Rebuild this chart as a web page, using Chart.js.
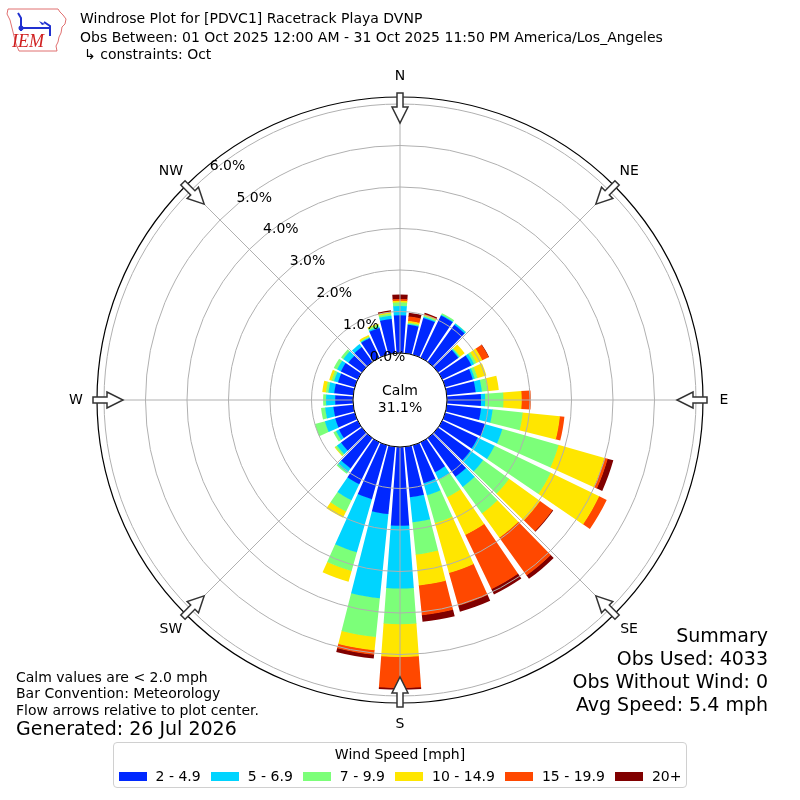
<!DOCTYPE html>
<html>
<head>
<meta charset="utf-8">
<script src="https://cdn.jsdelivr.net/npm/chart.js@4.4.1/dist/chart.umd.min.js"></script>
<style>
html,body{margin:0;padding:0;background:#fff;}
#wrap{position:relative;width:800px;height:800px;font-family:"DejaVu Sans",sans-serif;color:#000;overflow:hidden;background:#fff;}
#c{position:absolute;left:0;top:0;}
.t{position:absolute;white-space:nowrap;font-size:14px;line-height:14px;}
.big{font-size:19px;line-height:19px;}
.r{text-align:right;}
#legend{position:absolute;left:113px;top:742px;width:572px;height:44px;border:1px solid #d0d0d0;border-radius:4px;background:#fff;}
#legend .title{position:absolute;left:0;right:0;top:4px;text-align:center;font-size:14px;line-height:14px;white-space:nowrap;}
#legend .row{position:absolute;left:0;right:0;top:26px;display:flex;justify-content:center;align-items:center;font-size:14px;line-height:14px;white-space:nowrap;}
#legend .item{display:flex;align-items:center;margin:0 5px;flex:0 0 auto;white-space:nowrap;}
#legend .sw{width:28px;height:9px;margin-right:9px;flex:0 0 auto;}
</style>
</head>
<body>
<div id="wrap">
  <canvas id="c" width="800" height="800"></canvas>
  <svg style="position:absolute;left:5px;top:6px" width="64" height="48" viewBox="0 0 64 48">
    <path d="M3 3 L53 3 L55 6 L58 9 L61 13 L60 18 L57 21 L56 27 L54 31 L53 36 L51 40 L52 45 L14 45 L11 38 L9 30 L7 22 L5 14 L2 8 Z" fill="none" stroke="#e07070" stroke-width="1"/>
    <g stroke="#2030d0" stroke-width="2" fill="none">
      <path d="M13 7 L16 12 L16 22"/>
      <path d="M14 22 L45 22"/>
      <path d="M39 16 L45 20 L45 30"/>
      <path d="M16 22 L16 25"/>
    </g>
    <circle cx="16" cy="22" r="2.5" fill="#2030d0"/>
    <path d="M34 15 L40 18 L37 19 Z" fill="#2030d0"/>
    <text x="7" y="41" font-family="Liberation Serif" font-style="italic" font-size="18" fill="#d02020">IEM</text>
  </svg>
  <div class="t" style="left:80px;top:11px;">Windrose Plot for [PDVC1] Racetrack Playa DVNP</div>
  <div class="t" style="left:80px;top:30px;">Obs Between: 01 Oct 2025 12:00 AM - 31 Oct 2025 11:50 PM America/Los_Angeles</div>
  <div class="t" style="left:84px;top:47px;">↳ constraints: Oct</div>

  <div class="t" style="left:16px;top:670px;">Calm values are &lt; 2.0 mph</div>
  <div class="t" style="left:16px;top:686px;">Bar Convention: Meteorology</div>
  <div class="t" style="left:16px;top:703px;">Flow arrows relative to plot center.</div>
  <div class="t big" style="left:16px;top:719px;">Generated: 26 Jul 2026</div>

  <div class="t big r" style="right:32px;top:626px;">Summary</div>
  <div class="t big r" style="right:32px;top:649px;">Obs Used: 4033</div>
  <div class="t big r" style="right:32px;top:672px;">Obs Without Wind: 0</div>
  <div class="t big r" style="right:32px;top:695px;">Avg Speed: 5.4 mph</div>

  <div id="legend"><div class="title">Wind Speed [mph]</div><div class="row" id="legrow"></div></div>
</div>
<script>
// ---------------- data ----------------
const DIRECTIONS = [0,10,20,30,40,50,60,70,80,90,100,110,120,130,140,150,160,170,
                    180,190,200,210,220,230,240,250,260,270,280,290,300,310,320,330,340,350];
const SPEED_BINS = ['2 - 4.9','5 - 6.9','7 - 9.9','10 - 14.9','15 - 19.9','20+'];
// percent of observations per direction and speed bin
const speed2to5   = [0.91,0.69,0.92,1.13,1.10,0.60,0.78,0.69,0.70,0.82,0.83,1.00,0.95,0.96,1.15,0.80,0.95,1.22,
                     1.90,1.63,1.35,1.12,0.90,0.62,0.50,0.49,0.48,0.43,0.46,0.42,0.45,0.40,0.44,0.53,0.67,0.83];
const speed5to7   = [0.22,0.02,0.03,0.02,0.04,0.03,0.07,0.05,0.15,0.10,0.28,0.43,0.45,0.38,0.30,0.20,0.30,0.61,
                     1.51,2.04,1.33,0.43,0.12,0.12,0.08,0.26,0.20,0.22,0.14,0.10,0.10,0.15,0.09,0.02,0.03,0.08];
const speed7to10  = [0.09,0.03,0.03,0.04,0.01,0.03,0.06,0.07,0.14,0.44,0.73,1.41,1.50,0.77,0.79,0.47,0.70,0.78,
                     0.86,0.94,0.47,0.30,0.04,0.05,0.07,0.25,0.10,0.07,0.06,0.06,0.09,0.07,0.00,0.02,0.05,0.05];
const speed10to15 = [0.04,0.04,0.02,0.00,0.00,0.13,0.16,0.22,0.27,0.44,0.90,1.15,1.30,0.92,0.72,1.01,1.25,0.75,
                     0.79,0.32,0.27,0.17,0.00,0.02,0.00,0.00,0.00,0.00,0.09,0.06,0.00,0.00,0.00,0.04,0.03,0.03];
const speed15to20 = [0.04,0.11,0.02,0.00,0.00,0.00,0.17,0.00,0.00,0.22,0.11,0.08,0.20,0.37,1.12,1.45,0.82,0.72,
                     0.75,0.11,0.00,0.00,0.00,0.00,0.00,0.00,0.00,0.00,0.00,0.00,0.00,0.00,0.00,0.00,0.00,0.02];
const speed20plus = [0.11,0.09,0.03,0.00,0.00,0.00,0.01,0.00,0.00,0.00,0.00,0.14,0.00,0.02,0.10,0.14,0.15,0.16,
                     0.04,0.09,0.00,0.00,0.00,0.00,0.00,0.00,0.00,0.00,0.00,0.00,0.00,0.00,0.00,0.00,0.00,0.03];
const RING_TICKS = [0,1,2,3,4,5,6];
const CALM_PERCENT = 31.1;
const COMPASS = ['N','NE','E','SE','S','SW','W','NW'];

// ---------------- styles ----------------
const SPEED_COLORS = ['#0028ff','#00d4ff','#7cff79','#ffe600','#ff4800','#800000'];
const BAR_WIDTH_DEG = 8.4;

const bins = [speed2to5, speed5to7, speed7to10, speed10to15, speed15to20, speed20plus];
const cumulative = [];
bins.forEach((b, k) => {
  cumulative.push(b.map((v, i) => +((k ? cumulative[k-1][i] : 0) + v).toFixed(4)));
});

// legend (html)
const legrow = document.getElementById('legrow');
SPEED_BINS.forEach((name, k) => {
  const it = document.createElement('div'); it.className = 'item';
  const sw = document.createElement('div'); sw.className = 'sw'; sw.style.background = SPEED_COLORS[k];
  const tx = document.createElement('span'); tx.textContent = name;
  it.appendChild(sw); it.appendChild(tx); legrow.appendChild(it);
});

const FONT = '14px "DejaVu Sans", sans-serif';

const windrosePlugin = {
  id: 'windrose',
  afterDatasetsUpdate(chart) {
    const s = chart.scales.r;
    const pad = (10 - BAR_WIDTH_DEG) / 2 * Math.PI / 180;
    chart.data.datasets.forEach((ds, k) => {
      const meta = chart.getDatasetMeta(k);
      meta.data.forEach((arc, i) => {
        arc.startAngle += pad;
        arc.endAngle -= pad;
        const base = k ? cumulative[k-1][i] : 0;
        if (bins[k][i] <= 0) { arc.innerRadius = 0; arc.outerRadius = 0; }
        else arc.innerRadius = Math.max(0, s.getDistanceFromCenterForValue(base) - (k ? 0.5 : 0));
      });
    });
  },
  afterDraw(chart) {
    const ctx = chart.ctx, s = chart.scales.r;
    const cx = s.xCenter, cy = s.yCenter, R = s.drawingArea;
    ctx.save();
    // angle lines
    ctx.strokeStyle = '#b0b0b0'; ctx.lineWidth = 1;
    for (let k = 0; k < 8; k++) {
      const a = k * 45 * Math.PI / 180;
      ctx.beginPath(); ctx.moveTo(cx, cy);
      ctx.lineTo(cx + R * Math.sin(a), cy - R * Math.cos(a)); ctx.stroke();
    }
    // outer frame
    ctx.strokeStyle = '#000'; ctx.lineWidth = 1.2;
    ctx.beginPath(); ctx.arc(cx, cy, R, 0, Math.PI * 2); ctx.stroke();
    // calm circle
    const r0 = s.getDistanceFromCenterForValue(0);
    ctx.fillStyle = '#fff'; ctx.beginPath(); ctx.arc(cx, cy, r0, 0, Math.PI * 2); ctx.fill();
    ctx.strokeStyle = '#000'; ctx.lineWidth = 1; ctx.stroke();
    ctx.fillStyle = '#000'; ctx.font = FONT; ctx.textAlign = 'center'; ctx.textBaseline = 'middle';
    ctx.fillText('Calm', cx, cy - 9);
    ctx.fillText(CALM_PERCENT.toFixed(1) + '%', cx, cy + 8);
    // ring labels
    ctx.textAlign = 'left'; ctx.textBaseline = 'bottom';
    const la = 320 * Math.PI / 180;
    RING_TICKS.forEach(v => {
      const r = s.getDistanceFromCenterForValue(v);
      ctx.fillText(v.toFixed(1) + '%', cx + r * Math.sin(la), cy - r * Math.cos(la));
    });
    // compass labels + flow arrows
    ctx.textAlign = 'center'; ctx.textBaseline = 'middle';
    COMPASS.forEach((lab, k) => {
      const a = k * 45 * Math.PI / 180;
      const sx = Math.sin(a), sy = -Math.cos(a);
      ctx.fillStyle = '#000';
      ctx.fillText(lab, cx + (R + 21) * sx, cy + (R + 21) * sy);
      const ux = -sx, uy = -sy;       // inward
      const px = Math.cos(a), py = Math.sin(a);
      const ox = cx + (R + 4) * sx, oy = cy + (R + 4) * sy;
      const pts = [[0,-3],[14,-3],[14,-8],[30,0],[14,8],[14,3],[0,3]];
      ctx.beginPath();
      pts.forEach(([t, w], i) => {
        const x = ox + t * ux + w * px, y = oy + t * uy + w * py;
        if (i) ctx.lineTo(x, y); else ctx.moveTo(x, y);
      });
      ctx.closePath();
      ctx.fillStyle = '#fff'; ctx.fill();
      ctx.strokeStyle = '#333'; ctx.lineWidth = 1.5; ctx.stroke();
    });
    ctx.restore();
  }
};

// radial scale: 0% sits at calm-circle edge, 1% per ring
const PX_PER_PCT = 41.5, CALM_RADIUS = 47, PLOT_RADIUS = 303;
const R_MIN = -CALM_RADIUS / PX_PER_PCT;
const R_MAX = R_MIN + PLOT_RADIUS / PX_PER_PCT;

new Chart(document.getElementById('c'), {
  type: 'polarArea',
  data: {
    labels: DIRECTIONS.map(d => d + '°'),
    datasets: SPEED_BINS.map((name, k) => ({
      label: name, data: cumulative[k], backgroundColor: SPEED_COLORS[k], borderWidth: 0
    }))
  },
  options: {
    responsive: false, animation: false, events: [],
    layout: { padding: 400 - PLOT_RADIUS },
    plugins: { legend: { display: false }, tooltip: { enabled: false } },
    scales: {
      r: {
        min: R_MIN, max: R_MAX, startAngle: -5,
        ticks: { display: false },
        grid: { color: '#b0b0b0', lineWidth: 1, z: 1, circular: true },
        angleLines: { display: false },
        pointLabels: { display: false },
        afterBuildTicks: sc => { sc.ticks = RING_TICKS.map(v => ({ value: v })); }
      }
    }
  },
  plugins: [windrosePlugin]
});
</script>
</body>
</html>
